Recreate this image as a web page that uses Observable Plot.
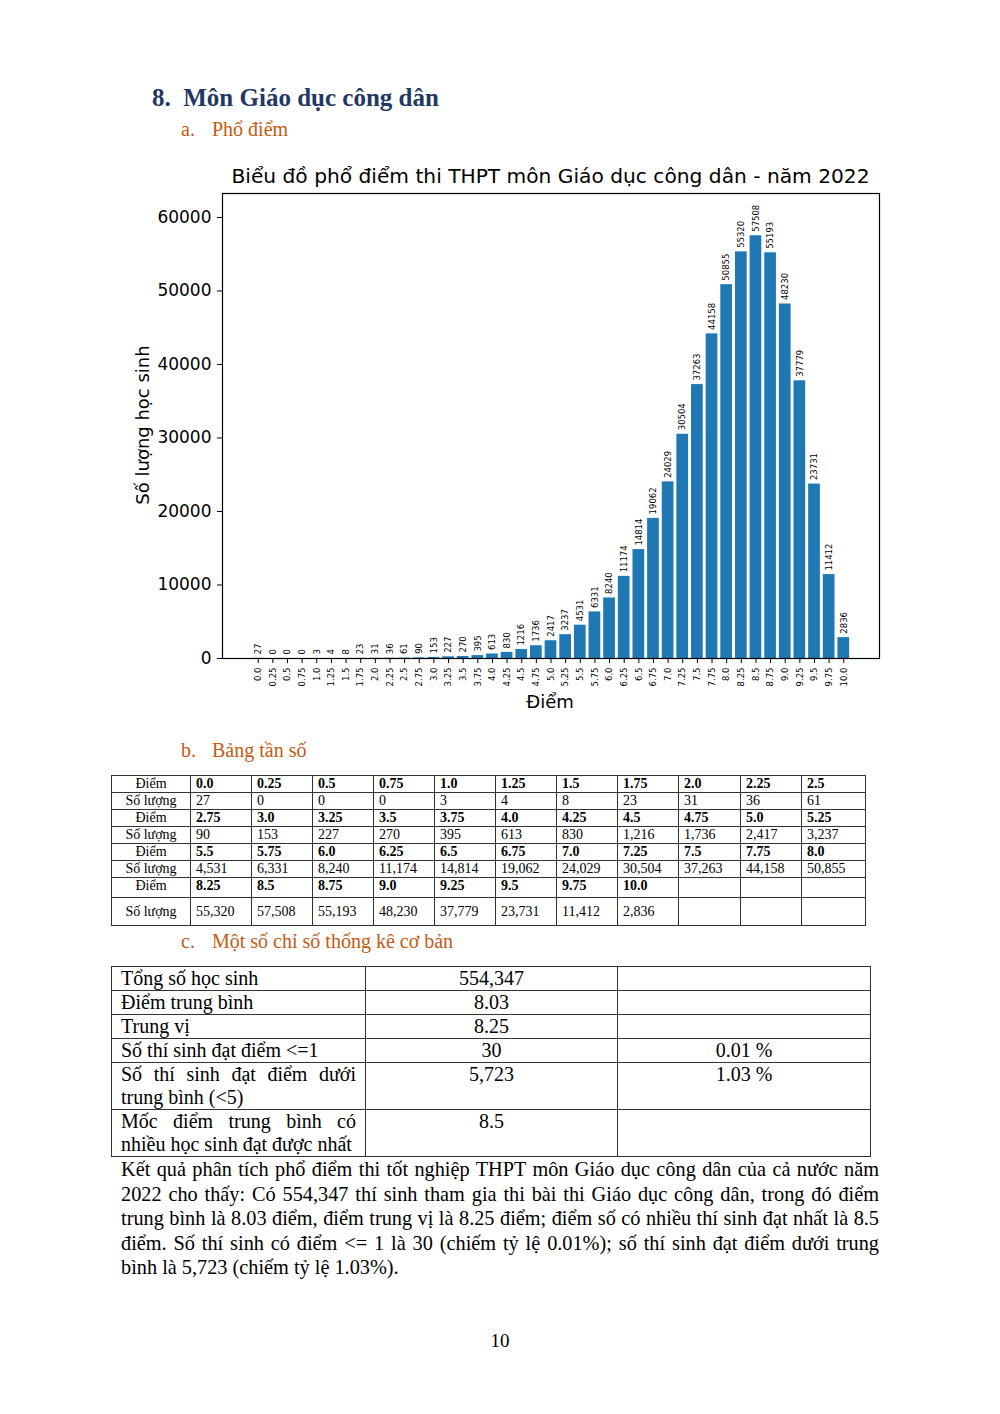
<!DOCTYPE html>
<html>
<head>
<meta charset="utf-8">
<script src="https://cdn.jsdelivr.net/npm/d3@7"></script>
<script src="https://cdn.jsdelivr.net/npm/@observablehq/plot@0.6"></script>
<style>
  html, body { margin: 0; padding: 0; background: #fff; }
  body { width: 1000px; height: 1414px; position: relative; overflow: hidden; font-family: "Liberation Serif", "Times New Roman", serif; color: #000; }
  .abs { position: absolute; }
  #h1 { left: 152px; top: 84px; font-size: 25px; font-weight: bold; color: #1f3864; white-space: nowrap; }
  .sub { font-size: 20px; color: #c55a11; white-space: nowrap; }
  .sub .n { display: inline-block; width: 31px; }
  #ctitle { left: 222px; top: 164px; width: 657px; text-align: center; font-family: "DejaVu Sans", sans-serif; font-size: 20.2px; line-height: 24px; white-space: nowrap; }
  #ylab { left: 142px; top: 425px; transform: translate(-50%, -50%) rotate(-90deg); font-family: "DejaVu Sans", sans-serif; font-size: 18px; white-space: nowrap; }
  #xlab { left: 550px; top: 701px; transform: translate(-50%, -50%); font-family: "DejaVu Sans", sans-serif; font-size: 18px; white-space: nowrap; }
  #chart { left: 130px; top: 185px; }
  table { border-collapse: collapse; table-layout: fixed; }
  #freq { left: 111px; top: 775px; font-size: 14px; }
  #freq td { border: 1px solid #333; padding: 0 0 0 5px; line-height: 15px; vertical-align: top; overflow: hidden; white-space: nowrap; }
  #freq td.hd { text-align: center; padding: 0; }
  #freq tr.pt td { font-weight: bold; }
  #freq tr.pt td.hd { font-weight: normal; }
  #stats { left: 111px; top: 966px; font-size: 20px; }
  #stats td { border: 1px solid #333; padding: 0 9px; line-height: 23px; vertical-align: top; }
  #stats td.c1 { text-align: justify; text-align-last: left; }
  #stats td.c2, #stats td.c3 { text-align: center; }
  #para { left: 121px; top: 1157px; width: 758px; font-size: 20.3px; line-height: 24.6px; text-align: justify; }
  #pg { left: 0; top: 1330px; width: 1000px; text-align: center; font-size: 19px; }
</style>
</head>
<body>
<div id="h1" class="abs">8.&nbsp; Môn Giáo dục công dân</div>
<div class="abs sub" style="left:181px; top:118px;"><span class="n">a.</span>Phổ điểm</div>
<div id="ctitle" class="abs">Biểu đồ phổ điểm thi THPT môn Giáo dục công dân - năm 2022</div>
<div id="ylab" class="abs">Số lượng học sinh</div>
<div id="xlab" class="abs">Điểm</div>
<div id="chart" class="abs"></div>
<div class="abs sub" style="left:181px; top:739px;"><span class="n">b.</span>Bảng tần số</div>
<table id="freq" class="abs"></table>
<div class="abs sub" style="left:181px; top:930px;"><span class="n">c.</span>Một số chỉ số thống kê cơ bản</div>
<table id="stats" class="abs"></table>
<div id="para" class="abs">Kết quả phân tích phổ điểm thi tốt nghiệp THPT môn Giáo dục công dân của cả nước năm 2022 cho thấy: Có 554,347 thí sinh tham gia thi bài thi Giáo dục công dân, trong đó điểm trung bình là 8.03 điểm, điểm trung vị là 8.25 điểm; điểm số có nhiều thí sinh đạt nhất là 8.5 điểm. Số thí sinh có điểm &lt;= 1 là 30 (chiếm tỷ lệ 0.01%); số thí sinh đạt điểm dưới trung bình là 5,723 (chiếm tỷ lệ 1.03%).</div>
<div id="pg" class="abs">10</div>
<script>
// ---- data ----
const scores = ["0.0","0.25","0.5","0.75","1.0","1.25","1.5","1.75","2.0","2.25","2.5","2.75","3.0","3.25","3.5","3.75","4.0","4.25","4.5","4.75","5.0","5.25","5.5","5.75","6.0","6.25","6.5","6.75","7.0","7.25","7.5","7.75","8.0","8.25","8.5","8.75","9.0","9.25","9.5","9.75","10.0"];
const counts = [27,0,0,0,3,4,8,23,31,36,61,90,153,227,270,395,613,830,1216,1736,2417,3237,4531,6331,8240,11174,14814,19062,24029,30504,37263,44158,50855,55320,57508,55193,48230,37779,23731,11412,2836];
const yTicks = [0,10000,20000,30000,40000,50000,60000];
const statLabels = ["Tổng số học sinh","Điểm trung bình","Trung vị","Số thí sinh đạt điểm <=1","Số thí sinh đạt điểm dưới trung bình (<5)","Mốc điểm trung bình có nhiều học sinh đạt được nhất"];
const statValues = ["554,347","8.03","8.25","30","5,723","8.5"];
const statPercents = ["","","","0.01 %","1.03 %",""];

const data = scores.map((s, i) => ({score: s, count: counts[i]}));
const yMax = d3.max(counts) * 1.1;

const chart = Plot.plot({
  width: 760,
  height: 540,
  marginLeft: 92,
  marginRight: 11,
  marginTop: 8,
  marginBottom: 67,
  style: {fontFamily: "DejaVu Sans, sans-serif", color: "#000", background: "transparent"},
  x: {type: "band", domain: scores, paddingInner: 0.2, paddingOuter: 2.04, align: 0.5, round: false},
  y: {domain: [0, yMax]},
  marks: [
    Plot.barY(data, {x: "score", y: "count", fill: "#1f77b4"}),
    Plot.text(data, {x: "score", y: "count", text: d => String(d.count), rotate: -90, textAnchor: "start", dy: -4, fontSize: 8.5, fill: "#000"}),
    Plot.axisY({ticks: yTicks, tickFormat: d => String(d), fontSize: 17, tickSize: 5, tickPadding: 6, label: null, stroke: "#000"}),
    Plot.axisX({tickRotate: -90, fontSize: 8.5, tickSize: 5, tickPadding: 4, label: null, stroke: "#000"}),
    Plot.frame({stroke: "#000", strokeWidth: 1.2})
  ]
});
document.getElementById("chart").appendChild(chart);

// ---- frequency table ----
const fmt = d3.format(",");
const perRow = 11;
const colW = [79, 61, 61, 61, 61, 61, 61, 61, 61, 62, 61, 64];
const rowH = [17, 17, 17, 17, 17, 17, 20, 28];
const freq = document.getElementById("freq");
const cg = document.createElement("colgroup");
colW.forEach(w => { const c = document.createElement("col"); c.style.width = w + "px"; cg.appendChild(c); });
freq.appendChild(cg);
let r = 0;
for (let start = 0; start < scores.length; start += perRow) {
  const sl = scores.slice(start, start + perRow);
  const cl = counts.slice(start, start + perRow);
  [["Điểm", sl, "pt"], ["Số lượng", cl.map(fmt), "ct"]].forEach(([head, vals, cls]) => {
    const tr = document.createElement("tr");
    tr.className = cls;
    tr.style.height = rowH[r] + "px";
    const th = document.createElement("td");
    th.className = "hd"; th.textContent = head; tr.appendChild(th);
    for (let k = 0; k < perRow; k++) {
      const td = document.createElement("td");
      td.textContent = vals[k] !== undefined ? vals[k] : "";
      if (r === 7) td.style.paddingTop = "6px";
      tr.appendChild(td);
    }
    if (r === 7) th.style.paddingTop = "6px";
    freq.appendChild(tr);
    r++;
  });
}

// ---- stats table ----
const stats = document.getElementById("stats");
const cg2 = document.createElement("colgroup");
[254, 252, 253].forEach(w => { const c = document.createElement("col"); c.style.width = w + "px"; cg2.appendChild(c); });
stats.appendChild(cg2);
const sH = [23, 24, 24, 24, 47, 47];
statLabels.forEach((lab, i) => {
  const tr = document.createElement("tr");
  tr.style.height = sH[i] + "px";
  [[lab, "c1"], [statValues[i], "c2"], [statPercents[i], "c3"]].forEach(([t, c]) => {
    const td = document.createElement("td");
    td.className = c; td.textContent = t; tr.appendChild(td);
  });
  stats.appendChild(tr);
});
</script>
</body>
</html>
